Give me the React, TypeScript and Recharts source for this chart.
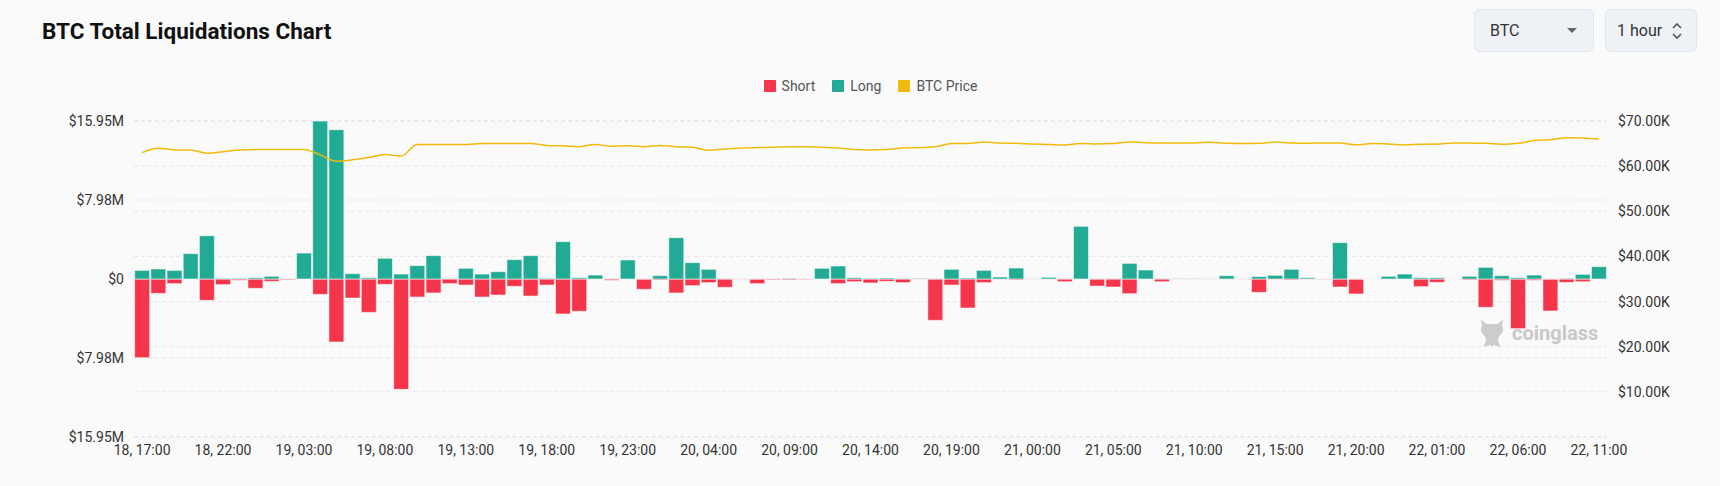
import { ComposedChart, Bar, Line, XAxis, YAxis, CartesianGrid } from "recharts";

// hourly buckets, 18th 17:00 -> 22nd 11:00
const categories = [
  "18, 17:00", "18, 18:00", "18, 19:00", "18, 20:00", "18, 21:00", "18, 22:00", "18, 23:00",
  "19, 00:00", "19, 01:00", "19, 02:00", "19, 03:00", "19, 04:00", "19, 05:00", "19, 06:00", "19, 07:00",
  "19, 08:00", "19, 09:00", "19, 10:00", "19, 11:00", "19, 12:00", "19, 13:00", "19, 14:00", "19, 15:00",
  "19, 16:00", "19, 17:00", "19, 18:00", "19, 19:00", "19, 20:00", "19, 21:00", "19, 22:00", "19, 23:00",
  "20, 00:00", "20, 01:00", "20, 02:00", "20, 03:00", "20, 04:00", "20, 05:00", "20, 06:00", "20, 07:00",
  "20, 08:00", "20, 09:00", "20, 10:00", "20, 11:00", "20, 12:00", "20, 13:00", "20, 14:00", "20, 15:00",
  "20, 16:00", "20, 17:00", "20, 18:00", "20, 19:00", "20, 20:00", "20, 21:00", "20, 22:00", "20, 23:00",
  "21, 00:00", "21, 01:00", "21, 02:00", "21, 03:00", "21, 04:00", "21, 05:00", "21, 06:00", "21, 07:00",
  "21, 08:00", "21, 09:00", "21, 10:00", "21, 11:00", "21, 12:00", "21, 13:00", "21, 14:00", "21, 15:00",
  "21, 16:00", "21, 17:00", "21, 18:00", "21, 19:00", "21, 20:00", "21, 21:00", "21, 22:00", "21, 23:00",
  "22, 00:00", "22, 01:00", "22, 02:00", "22, 03:00", "22, 04:00", "22, 05:00", "22, 06:00", "22, 07:00",
  "22, 08:00", "22, 09:00", "22, 10:00", "22, 11:00",
];

// long liquidations, $M
const longLiq = [
  0.87, 1.01, 0.87, 2.56, 4.37, 0.07, 0.07, 0.13, 0.27, 0.03,
  2.62, 15.95, 15.07, 0.54, 0.13, 2.09, 0.5, 1.35, 2.36, 0.05,
  1.08, 0.5, 0.74, 1.95, 2.36, 0.07, 3.77, 0.13, 0.4, 0.05,
  1.92, 0.02, 0.34, 4.17, 1.65, 0.98, 0.03, 0.03, 0.02, 0.03,
  0.07, 0.02, 1.08, 1.31, 0.13, 0.07, 0.1, 0.05, 0.07, 0.03,
  0.98, 0.1, 0.87, 0.2, 1.11, 0.03, 0.17, 0.05, 5.32, 0.03,
  0.05, 1.58, 0.91, 0.05, 0.05, 0.05, 0.03, 0.34, 0.03, 0.24,
  0.37, 0.98, 0.13, 0.01, 3.67, 0.01, 0.01, 0.27, 0.5, 0.13,
  0.13, 0.01, 0.27, 1.18, 0.34, 0.13, 0.4, 0.01, 0.07, 0.47, 1.25,
];

// short liquidations, $M (drawn below zero)
const shortLiq = [
  7.94, 1.45, 0.47, 0, 2.15, 0.57, 0.13, 0.94, 0.24, 0.1,
  0, 1.55, 6.36, 1.92, 3.37, 0.54, 11.14, 1.82, 1.41, 0.47,
  0.61, 1.82, 1.62, 0.74, 1.72, 0.61, 3.53, 3.26, 0.02, 0.13,
  0, 1.04, 0.1, 1.41, 0.67, 0.37, 0.84, 0.05, 0.47, 0.1,
  0.1, 0.08, 0, 0.47, 0.27, 0.4, 0.24, 0.37, 0.03, 4.17,
  0.61, 2.93, 0.37, 0.03, 0.1, 0.03, 0.03, 0.27, 0, 0.71,
  0.81, 1.48, 0, 0.27, 0.03, 0.03, 0.03, 0.03, 0.03, 1.35,
  0.05, 0.1, 0.03, 0.07, 0.81, 1.51, 0.01, 0.03, 0, 0.77,
  0.34, 0.01, 0.1, 2.86, 0.13, 5.01, 0.13, 3.23, 0.34, 0.27, 0,
];

// BTC price, $K
const btcPrice = [
  63.0, 63.95, 63.6, 63.6, 62.85, 63.2, 63.6, 63.7, 63.7, 63.7,
  63.7, 62.5, 61.1, 61.4, 61.9, 62.6, 62.25, 64.8, 64.8, 64.8,
  64.8, 65.0, 65.0, 65.0, 65.0, 64.6, 64.5, 64.3, 64.8, 64.4,
  64.5, 64.3, 64.6, 64.3, 64.2, 63.5, 63.8, 64.0, 64.1, 64.2,
  64.3, 64.3, 64.2, 64.0, 63.7, 63.6, 63.7, 64.0, 64.1, 64.3,
  65.0, 65.0, 65.35, 65.1, 65.05, 64.9, 64.8, 64.7, 65.0, 64.9,
  65.0, 65.35, 65.2, 65.15, 65.15, 65.15, 65.3, 65.05, 65.0, 65.05,
  65.35, 65.1, 65.05, 65.15, 65.1, 64.75, 65.0, 64.9, 64.7, 64.85,
  64.9, 65.15, 65.1, 65.05, 64.85, 65.05, 65.7, 65.85, 66.3, 66.25, 66.0,
];

const liqTicks = [-15950000, -7975000, 0, 7975000, 15950000];
const priceTicks = [0, 10000, 20000, 30000, 40000, 50000, 60000, 70000];

const SHORT_COLOR = "#f5364a";
const LONG_COLOR = "#22ab94";
const PRICE_COLOR = "#f0b90b";

const legendItems = [
  { name: "Short", color: SHORT_COLOR },
  { name: "Long", color: LONG_COLOR },
  { name: "BTC Price", color: PRICE_COLOR },
];

const data = categories.map((time, i) => ({
  time,
  long: longLiq[i] * 1e6,
  short: -shortLiq[i] * 1e6,
  price: btcPrice[i] * 1000,
}));

const fmtLiq = (v: number) => {
  if (v === 0) return "$0";
  return `$${(Math.round(Math.abs(v) / 1e4) / 100).toFixed(2)}M`;
};

const fmtPrice = (v: number) => (v === 0 ? "" : `$${(v / 1000).toFixed(2)}K`);

const tickStyle = { fontSize: 14, fill: "#333" };

function Watermark() {
  return (
    <div
      style={{
        position: "absolute",
        left: 1477,
        top: 316,
        display: "flex",
        alignItems: "center",
        gap: 5,
        color: "#c8c8c8",
        fontSize: 20,
        fontWeight: 700,
        pointerEvents: "none",
      }}
    >
      <svg width="30" height="32" viewBox="0 0 30 32">
        <path
          d="M4 3 L9 8 L21 8 L26 3 L25 10 C27 13 26 18 22 20 L21 26 L24 31 L17 29 L15 31 L13 29 L6 31 L9 26 L8 20 C4 18 3 13 5 10 Z"
          fill="#cccccc"
        />
      </svg>
      <span style={{ marginTop: 2 }}>coinglass</span>
    </div>
  );
}

export default function App() {
  return (
    <div
      style={{
        position: "absolute",
        left: 0,
        top: 0,
        width: 1720,
        height: 486,
        background: "#fafafa",
        fontFamily: "Roboto, sans-serif",
        overflow: "hidden",
      }}
    >
      <div
        style={{
          position: "absolute",
          left: 42,
          top: 17,
          fontSize: 22.5,
          fontWeight: 700,
          color: "#111",
          lineHeight: "28px",
        }}
      >
        BTC Total Liquidations Chart
      </div>

      <div
        style={{
          position: "absolute",
          left: 1474,
          top: 9,
          width: 120,
          height: 43,
          boxSizing: "border-box",
          background: "#eef2f6",
          border: "1px solid #dde5ee",
          borderRadius: 6,
          display: "flex",
          alignItems: "center",
          justifyContent: "space-between",
          padding: "0 16px 0 15px",
          fontSize: 16,
          color: "#333",
        }}
      >
        <span>BTC</span>
        <svg width="10" height="6" viewBox="0 0 10 6">
          <path d="M0 0 L10 0 L5 5 Z" fill="#666" />
        </svg>
      </div>

      <div
        style={{
          position: "absolute",
          left: 1605,
          top: 9,
          width: 92,
          height: 43,
          boxSizing: "border-box",
          background: "#eef2f6",
          border: "1px solid #dde5ee",
          borderRadius: 6,
          display: "flex",
          alignItems: "center",
          padding: "0 0 0 11px",
          fontSize: 16,
          color: "#333",
        }}
      >
        <span>1 hour</span>
        <svg width="12" height="18" viewBox="0 0 12 18" style={{ marginLeft: 9 }}>
          <path d="M2 6 L6 2 L10 6" stroke="#555" strokeWidth="1.6" fill="none" />
          <path d="M2 12 L6 16 L10 12" stroke="#555" strokeWidth="1.6" fill="none" />
        </svg>
      </div>

      <div
        style={{
          position: "absolute",
          left: 134,
          top: 78,
          width: 1473,
          display: "flex",
          justifyContent: "center",
          gap: 17,
          fontSize: 14,
          color: "#555",
        }}
      >
        {legendItems.map((item) => (
          <div key={item.name} style={{ display: "flex", alignItems: "center", gap: 6 }}>
            <span style={{ width: 12, height: 12, background: item.color, borderRadius: 1 }} />
            <span>{item.name}</span>
          </div>
        ))}
      </div>

      <Watermark />

      <div style={{ position: "absolute", left: 0, top: 0 }}>
        <ComposedChart
          width={1720}
          height={486}
          data={data}
          stackOffset="sign"
          barCategoryGap="4%"
          margin={{ top: 121, right: 0, bottom: 19, left: 0 }}
        >
          <CartesianGrid yAxisId="liq" vertical={false} stroke="#e6e6e6" strokeDasharray="4 3" />
          <CartesianGrid yAxisId="price" vertical={false} stroke="#e6e6e6" strokeDasharray="4 3" />
          <XAxis
            dataKey="time"
            interval={4}
            tickLine={false}
            axisLine={false}
            height={30}
            tick={tickStyle}
          />
          <YAxis
            yAxisId="liq"
            orientation="left"
            width={134}
            domain={[-15950000, 15950000]}
            ticks={liqTicks}
            tickFormatter={fmtLiq}
            tickLine={false}
            axisLine={false}
            tickSize={0}
            tickMargin={10}
            tick={tickStyle}
          />
          <YAxis
            yAxisId="price"
            orientation="right"
            width={113}
            domain={[0, 70000]}
            ticks={priceTicks}
            tickFormatter={fmtPrice}
            tickLine={false}
            axisLine={false}
            tickSize={0}
            tickMargin={11}
            tick={tickStyle}
          />
          <Bar
            yAxisId="liq"
            dataKey="short"
            stackId="liq"
            fill={SHORT_COLOR}
            stroke="rgba(255,255,255,0.55)"
            strokeWidth={1}
            isAnimationActive={false}
          />
          <Bar
            yAxisId="liq"
            dataKey="long"
            stackId="liq"
            fill={LONG_COLOR}
            stroke="rgba(255,255,255,0.55)"
            strokeWidth={1}
            isAnimationActive={false}
          />
          <Line
            yAxisId="price"
            dataKey="price"
            type="monotone"
            stroke={PRICE_COLOR}
            strokeWidth={1.5}
            dot={false}
            activeDot={false}
            isAnimationActive={false}
          />
        </ComposedChart>
      </div>
    </div>
  );
}
